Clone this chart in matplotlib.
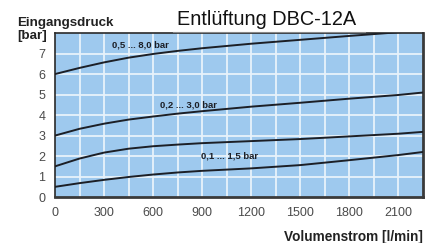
import numpy as np
import matplotlib
matplotlib.use("Agg")
import matplotlib.pyplot as plt

plt.rcParams['font.family'] = ['Liberation Sans', 'DejaVu Sans']

# flow [l/min] and inlet pressure [bar]
flow = [0, 150, 300, 450, 600, 750, 900, 1200, 1500, 1800, 2100, 2250]
p_8 = [6.0, 6.3, 6.57, 6.8, 6.98, 7.13, 7.26, 7.48, 7.67, 7.86, 8.04, 8.12]
p_3 = [3.0, 3.33, 3.58, 3.78, 3.93, 4.07, 4.19, 4.41, 4.6, 4.8, 4.98, 5.1]
p_15_up = [1.5, 1.88, 2.17, 2.36, 2.48, 2.56, 2.63, 2.73, 2.83, 2.96, 3.09, 3.18]
p_15_lo = [0.5, 0.68, 0.84, 0.98, 1.1, 1.2, 1.28, 1.4, 1.56, 1.8, 2.05, 2.2]

curve_labels = ["0,5 ... 8,0 bar", "0,2 ... 3,0 bar", "0,1 ... 1,5 bar"]
label_pos = [(520, 7.42), (815, 4.48), (1065, 2.0)]

xticks = [0, 300, 600, 900, 1200, 1500, 1800, 2100]
yticks = [0, 1, 2, 3, 4, 5, 6, 7]

fig = plt.figure(figsize=(4.37, 2.43), dpi=100)
ax = fig.add_axes([0.126, 0.189, 0.842, 0.675])
ax.set_facecolor('#9ec9ee')

for v in np.arange(150, 2250, 150):
    ax.axvline(v, color='#e8f2fb', lw=1.3, zorder=1)
for v in range(1, 8):
    ax.axhline(v, color='#e8f2fb', lw=1.3, zorder=1)

for ys in [p_8, p_3, p_15_up, p_15_lo]:
    ax.plot(flow, ys, color='#1c1f26', lw=1.4, zorder=3, clip_on=True)

for txt, (x, y) in zip(curve_labels, label_pos):
    ax.text(x, y, txt, fontsize=6.8, fontweight='bold', color='#1c1f26',
            ha='center', va='center', zorder=4)

ax.set_xlim(0, 2250)
ax.set_ylim(0, 8)
ax.set_xticks(xticks)
ax.set_yticks(yticks)
ax.tick_params(length=0, labelsize=9, labelcolor='#4a4a4a', pad=7)
for s in ['left', 'top']:
    ax.spines[s].set_color('#2a2a2a')
    ax.spines[s].set_linewidth(1.2)
for s in ['right', 'bottom']:
    ax.spines[s].set_color('#3a3a3a')
    ax.spines[s].set_linewidth(2.0)

fig.text(0.405, 0.918, "Entlüftung DBC-12A", fontsize=14.3, fontweight='medium',
         ha='left', va='center', color='#111111')
fig.add_artist(plt.Line2D([0.395, 0.835], [0.868, 0.868], color='#888888', lw=0.8))
fig.text(0.04, 0.905, "Eingangsdruck", fontsize=9.6, fontweight='bold', ha='left', va='center', color='#222222')
fig.text(0.04, 0.852, "[bar]", fontsize=9.6, fontweight='bold', ha='left', va='center', color='#222222')
fig.text(0.968, 0.025, "Volumenstrom [l/min]", fontsize=9.8, fontweight='bold', ha='right', va='center', color='#222222')

fig.savefig("out.png", dpi=100)
